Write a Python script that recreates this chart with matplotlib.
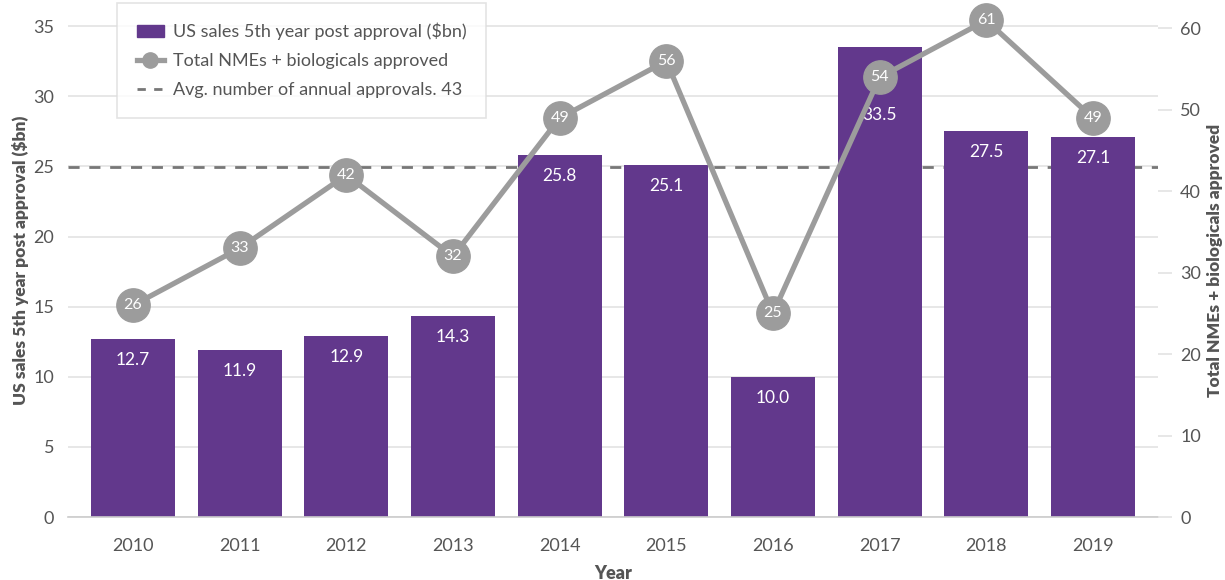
import numpy as np
import matplotlib.pyplot as plt
import matplotlib.transforms as mtransforms
from matplotlib.lines import Line2D
from matplotlib.patches import Patch

plt.rcParams['font.family'] = ['Lato', 'DejaVu Sans']

years = ['2010', '2011', '2012', '2013', '2014', '2015', '2016', '2017', '2018', '2019']
sales = [12.7, 11.9, 12.9, 14.3, 25.8, 25.1, 10.0, 33.5, 27.5, 27.1]
approvals = [26, 33, 42, 32, 49, 56, 25, 54, 61, 49]
avg_approvals = 43

purple = '#62388c'
grey = '#9c9c9c'
text_col = '#555555'
grid_col = '#e3e3e3'

fig = plt.figure(figsize=(12.25, 5.8), dpi=100)
ax = fig.add_axes([68 / 1225, 63 / 580, (1158 - 68) / 1225, (580 - 63 - 3) / 580])
ax2 = ax.twinx()

x = np.arange(len(years))
left_max = 36.65
right_max = left_max * 60 / 35 + 0.3
ax.set_ylim(0, left_max)
ax2.set_ylim(0, right_max)
ax.set_xlim(-0.61, 9.61)

# gridlines and average line sit behind the bars
ax.set_yticks(range(0, 36, 5))
ax.yaxis.grid(True, color=grid_col, lw=1.2, zorder=0)
ax.set_axisbelow(True)
trans = mtransforms.blended_transform_factory(ax.transAxes, ax2.transData)
ax.plot([0, 1], [avg_approvals, avg_approvals], transform=trans,
        color='#777777', lw=2, dashes=(4, 3.5), zorder=1)

bars = ax.bar(x, sales, width=0.79, color=purple, zorder=2)
scale = left_max / right_max
for xi, v, n in zip(x, sales, approvals):
    ly = v - 1.5
    # push the value label under the marker when the two would collide
    if abs(ly - n * scale) < 1.6:
        ly = n * scale - 2.7
    ax.text(xi, ly, f'{v:.1f}', ha='center', va='center',
            color='white', fontsize=12.5, zorder=3)

ax2.plot(x, approvals, color=grey, lw=3.8, marker='o', ms=24,
         markerfacecolor=grey, markeredgecolor=grey, zorder=4)
for xi, v in zip(x, approvals):
    ax2.text(xi, v, str(v), ha='center', va='center', color='white',
             fontsize=11.5, zorder=5)

for a in (ax, ax2):
    for s in a.spines.values():
        s.set_visible(False)
ax.spines['bottom'].set_visible(True)
ax.spines['bottom'].set_color('#cccccc')
ax.spines['bottom'].set_linewidth(1.2)

ax.set_xticks(x)
ax.set_xticklabels(years)
ax.tick_params(axis='x', length=0, pad=15, labelsize=13, labelcolor=text_col)
ax.tick_params(axis='y', length=0, pad=10, labelsize=13, labelcolor=text_col)
ax2.set_yticks(range(0, 61, 10))
ax2.tick_params(axis='y', length=10, width=1.2, color=grid_col, pad=6,
                labelsize=13, labelcolor=text_col)

ax.set_xlabel('Year', fontsize=13, fontweight='heavy', color=text_col, labelpad=8)
ax.set_ylabel('US sales 5th year post approval ($bn)', fontsize=12.5,
              fontweight='heavy', color=text_col, labelpad=3)
ax2.set_ylabel('Total NMEs + biologicals approved', fontsize=12.5,
               fontweight='heavy', color=text_col, labelpad=4)

handles = [
    Patch(facecolor=purple, edgecolor=purple),
    Line2D([], [], color=grey, lw=3.8, marker='o', ms=11),
    Line2D([], [], color='#777777', lw=2, dashes=(3, 3)),
]
labels = ['US sales 5th year post approval ($bn)',
          'Total NMEs + biologicals approved',
          'Avg. number of annual approvals. 43']
leg = ax2.legend(handles, labels, loc='upper left',
                 bbox_to_anchor=(117 / 1225, 577 / 580), bbox_transform=fig.transFigure,
                 frameon=True, fancybox=False, fontsize=13, labelcolor=text_col,
                 handlelength=1.5, handletextpad=0.5, borderpad=1.1, labelspacing=0.72,
                 borderaxespad=0)
leg.get_frame().set_edgecolor('#dddddd')
leg.get_frame().set_linewidth(1.2)
leg.set_zorder(10)

fig.savefig('out.png', dpi=100)
